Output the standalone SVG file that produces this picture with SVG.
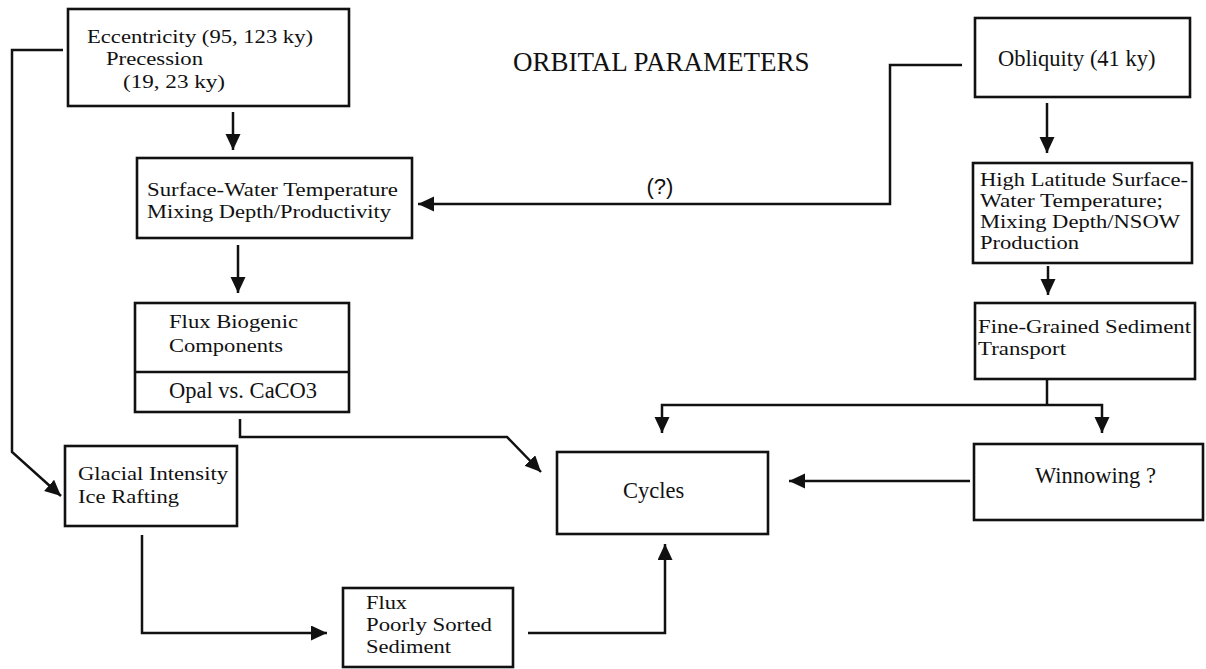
<svg xmlns="http://www.w3.org/2000/svg" width="1206" height="669" viewBox="0 0 1206 669">
<defs>
<style>
.box{fill:#fff;stroke:#111;stroke-width:2.6}
.t{font-family:"Liberation Serif","Times New Roman",serif;font-size:22.5px;fill:#111}
.m{font-family:"Liberation Serif","Times New Roman",serif;font-size:19.8px;fill:#111}
.h{font-family:"Liberation Serif","Times New Roman",serif;font-size:18.9px;fill:#111}
.title{font-family:"Liberation Serif","Times New Roman",serif;font-size:27px;fill:#111}
.q{font-family:"Liberation Sans",Arial,sans-serif;font-size:22px;fill:#111}
.c{fill:none;stroke:#111;stroke-width:2.5;stroke-linejoin:miter}
</style>
<marker id="ah" markerUnits="userSpaceOnUse" markerWidth="18" markerHeight="16" refX="16" refY="7.5" orient="auto">
<path d="M0,0 L16,7.5 L0,15 z" fill="#111"/>
</marker>
</defs>
<rect width="1206" height="669" fill="#fff"/>
<text class="title" x="513" y="71">ORBITAL PARAMETERS</text>
<g id="connectors">
<path class="c" d="M63,50 H12 V452 L61,496" marker-end="url(#ah)"/>
<path class="c" d="M233,112 V150" marker-end="url(#ah)"/>
<path class="c" d="M962,65 H890 V204 H418" marker-end="url(#ah)"/>
<path class="c" d="M1047,103 V153" marker-end="url(#ah)"/>
<path class="c" d="M238,245 V293" marker-end="url(#ah)"/>
<path class="c" d="M1048,266 V295" marker-end="url(#ah)"/>
<path class="c" d="M240,419 V437 H507 L541,472" marker-end="url(#ah)"/>
<path class="c" d="M1047,379 V405"/>
<path class="c" d="M1047,405 H662 V433" marker-end="url(#ah)"/>
<path class="c" d="M1047,405 H1102 V433" marker-end="url(#ah)"/>
<path class="c" d="M970,481 H789" marker-end="url(#ah)"/>
<path class="c" d="M142,535 V633 H327" marker-end="url(#ah)"/>
<path class="c" d="M528,633 H665 V544" marker-end="url(#ah)"/>
<text class="q" x="660" y="194" text-anchor="middle">(?)</text>
</g>
<g id="eccentricity">
<rect class="box" x="68" y="9" width="281" height="97"/>
<text class="m" x="87" y="42.8" textLength="226" lengthAdjust="spacingAndGlyphs">Eccentricity (95, 123 ky)</text>
<text class="m" x="106" y="65" textLength="97" lengthAdjust="spacingAndGlyphs">Precession</text>
<text class="m" x="123" y="88" textLength="102" lengthAdjust="spacingAndGlyphs">(19, 23 ky)</text>
</g>
<g id="obliquity">
<rect class="box" x="975" y="18" width="215" height="79"/>
<text class="t" x="998" y="66">Obliquity (41 ky)</text>
</g>
<g id="surface">
<rect class="box" x="137" y="158" width="275" height="80"/>
<text class="m" x="147" y="195.5" textLength="251" lengthAdjust="spacingAndGlyphs">Surface-Water Temperature</text>
<text class="m" x="147" y="217.5" textLength="244" lengthAdjust="spacingAndGlyphs">Mixing Depth/Productivity</text>
</g>
<g id="highlat">
<rect class="box" x="973" y="163" width="219" height="100"/>
<text class="h" x="980" y="186" textLength="208" lengthAdjust="spacingAndGlyphs">High Latitude Surface-</text>
<text class="h" x="980" y="207" textLength="183" lengthAdjust="spacingAndGlyphs">Water Temperature;</text>
<text class="h" x="980" y="228" textLength="200" lengthAdjust="spacingAndGlyphs">Mixing Depth/NSOW</text>
<text class="h" x="980" y="249" textLength="99" lengthAdjust="spacingAndGlyphs">Production</text>
</g>
<g id="fluxbio">
<rect class="box" x="135" y="303" width="214" height="109"/>
<line class="c" x1="135" y1="372" x2="349" y2="372"/>
<text class="m" x="169" y="328" textLength="129" lengthAdjust="spacingAndGlyphs">Flux Biogenic</text>
<text class="m" x="169" y="352" textLength="114" lengthAdjust="spacingAndGlyphs">Components</text>
<text class="t" x="169" y="398">Opal vs. CaCO3</text>
</g>
<g id="finegrained">
<rect class="box" x="975" y="303" width="220" height="76"/>
<text class="m" x="978" y="333" textLength="213" lengthAdjust="spacingAndGlyphs">Fine-Grained Sediment</text>
<text class="m" x="978" y="355" textLength="88" lengthAdjust="spacingAndGlyphs">Transport</text>
</g>
<g id="glacial">
<rect class="box" x="65" y="446" width="172" height="80"/>
<text class="m" x="78" y="480" textLength="150" lengthAdjust="spacingAndGlyphs">Glacial Intensity</text>
<text class="m" x="78" y="503" textLength="101" lengthAdjust="spacingAndGlyphs">Ice Rafting</text>
</g>
<g id="cycles">
<rect class="box" x="557" y="452" width="211" height="82"/>
<text class="t" x="623" y="498">Cycles</text>
</g>
<g id="winnowing">
<rect class="box" x="974" y="444" width="229" height="76"/>
<text class="t" x="1035" y="483">Winnowing ?</text>
</g>
<g id="fluxpoorly">
<rect class="box" x="343" y="588" width="170" height="79"/>
<text class="m" x="366" y="609" textLength="41" lengthAdjust="spacingAndGlyphs">Flux</text>
<text class="m" x="366" y="631" textLength="126" lengthAdjust="spacingAndGlyphs">Poorly Sorted</text>
<text class="m" x="366" y="653" textLength="85" lengthAdjust="spacingAndGlyphs">Sediment</text>
</g>
</svg>
